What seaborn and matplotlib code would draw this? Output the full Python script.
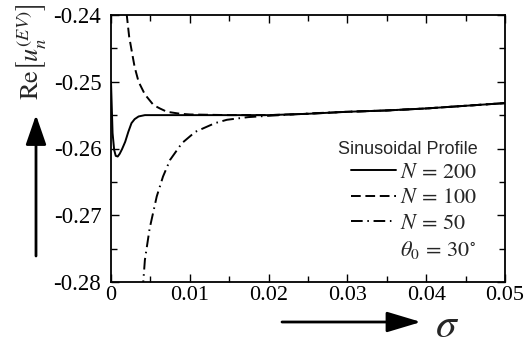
import numpy as np
import pandas as pd
import matplotlib
matplotlib.use("Agg")
import matplotlib.pyplot as plt
from matplotlib.ticker import MultipleLocator, FuncFormatter
from matplotlib.lines import Line2D
import seaborn as sns

# ---- data ----
x_n200 = [0.0, 0.0002, 0.0004, 0.0006, 0.00085, 0.0011, 0.0014, 0.0018, 0.0022,
          0.0026, 0.0030, 0.0035, 0.0043, 0.006, 0.010, 0.015, 0.020, 0.025,
          0.030, 0.035, 0.040, 0.045, 0.050]
y_n200 = [-0.2500, -0.2577, -0.2602, -0.2611, -0.2612, -0.2608, -0.2601, -0.2590,
          -0.2575, -0.2562, -0.2556, -0.2552, -0.2550, -0.2550, -0.2550, -0.2550,
          -0.2550, -0.2548, -0.2545, -0.2543, -0.2540, -0.2536, -0.2532]

x_n100 = [0.0018, 0.0020, 0.0023, 0.0026, 0.0030, 0.0035, 0.0043, 0.0054, 0.0062,
          0.0071, 0.0088, 0.010, 0.015, 0.020, 0.025, 0.030, 0.035, 0.040, 0.045, 0.050]
y_n100 = [-0.2370, -0.2400, -0.2432, -0.2452, -0.2478, -0.2500, -0.2519, -0.2535,
          -0.2540, -0.2545, -0.2548, -0.2549, -0.2550, -0.2550, -0.2548, -0.2545,
          -0.2543, -0.2540, -0.2536, -0.2532]

x_n50 = [0.0040, 0.0043, 0.0049, 0.0058, 0.0066, 0.0075, 0.0090, 0.0107, 0.0132,
         0.0147, 0.0174, 0.020, 0.023, 0.026, 0.030, 0.035, 0.040, 0.045, 0.050]
y_n50 = [-0.2815, -0.2767, -0.2720, -0.2672, -0.2642, -0.2617, -0.2592, -0.2575,
         -0.2562, -0.2557, -0.2553, -0.2551, -0.2549, -0.2547, -0.2545, -0.2543,
         -0.2540, -0.2536, -0.2532]

series_labels = [r"$N\,=\,200$", r"$N\,=\,100$", r"$N\,=\,50$"]
extra_label = r"$\theta_0\,=\,30^{\circ}$"
legend_title = "Sinusoidal Profile"
x_ticks = [0, 0.01, 0.02, 0.03, 0.04, 0.05]
y_ticks = [-0.28, -0.27, -0.26, -0.25, -0.24]

# ---- style ----
sns.set_style("ticks")
plt.rcParams["font.family"] = ["Liberation Serif", "DejaVu Serif"]
plt.rcParams["mathtext.fontset"] = "stix"
plt.rcParams["axes.unicode_minus"] = False

fig = plt.figure(figsize=(5.31, 3.47), dpi=100)
ax = fig.add_axes([111 / 531, 65 / 347, 394 / 531, 267 / 347])

df200 = pd.DataFrame({"x": x_n200, "y": y_n200})
df100 = pd.DataFrame({"x": x_n100, "y": y_n100})
df50 = pd.DataFrame({"x": x_n50, "y": y_n50})

lw = 1.4
sns.lineplot(data=df200, x="x", y="y", ax=ax, color="black", lw=lw, sort=False)
sns.lineplot(data=df100, x="x", y="y", ax=ax, color="black", lw=lw, sort=False)
sns.lineplot(data=df50, x="x", y="y", ax=ax, color="black", lw=lw, sort=False)
lines = ax.get_lines()
lines[1].set_dashes([5.0, 2.4])
lines[2].set_dashes([6.0, 2.4, 0.8, 2.4])

ax.set_xlim(0, 0.05)
ax.set_ylim(-0.28, -0.24)
ax.set_xlabel("")
ax.set_ylabel("")

ax.xaxis.set_major_locator(MultipleLocator(0.01))
ax.xaxis.set_minor_locator(MultipleLocator(0.005))
ax.yaxis.set_major_locator(MultipleLocator(0.01))
ax.yaxis.set_minor_locator(MultipleLocator(0.005))
ax.xaxis.set_major_formatter(FuncFormatter(lambda v, p: "0" if abs(v) < 1e-12 else f"{v:.2f}"))
ax.yaxis.set_major_formatter(FuncFormatter(lambda v, p: f"{v:.2f}"))
ax.tick_params(which="both", direction="in", top=True, right=True, width=1.0,
               labelsize=16, colors="black")
ax.tick_params(axis="y", labelsize=16.5)
ax.tick_params(axis="both", which="major", length=6)
ax.tick_params(axis="both", which="minor", length=4)
ax.tick_params(axis="y", which="major", pad=7)
ax.tick_params(axis="x", which="major", pad=3)
for s in ax.spines.values():
    s.set_linewidth(1.3)
    s.set_color("black")

# legend
handles = [Line2D([], [], color="black", lw=lw),
           Line2D([], [], color="black", lw=lw, dashes=[5.0, 2.4]),
           Line2D([], [], color="black", lw=lw, dashes=[6.0, 2.4, 0.8, 2.4]),
           Line2D([], [], color="none", lw=0)]
leg = ax.legend(handles, series_labels + [extra_label], title=legend_title,
                loc="lower right", bbox_to_anchor=(0.958, 0.038), frameon=False,
                fontsize=16, handlelength=2.0, handletextpad=0.2,
                labelspacing=0.22, borderpad=0.0, alignment="right",
                title_fontproperties={"family": "Liberation Sans", "size": 13})

# axis labels with arrows
fig.text(31 / 531, 1 - 52 / 347, r"$\mathrm{Re}\left[u_n^{(EV)}\right]$",
         rotation=90, ha="center", va="center", fontsize=19)
fig.add_artist(matplotlib.patches.FancyArrowPatch(
    (36 / 531, 1 - 256 / 347), (36 / 531, 1 - 115 / 347),
    transform=fig.transFigure, arrowstyle="-|>,head_length=1.3,head_width=0.45",
    mutation_scale=14, lw=2.0, color="black", shrinkA=0, shrinkB=0))
fig.add_artist(matplotlib.patches.FancyArrowPatch(
    (282 / 531, 1 - 322 / 347), (421 / 531, 1 - 322 / 347),
    transform=fig.transFigure, arrowstyle="-|>,head_length=1.5,head_width=0.45",
    mutation_scale=14, lw=2.0, color="black", shrinkA=0, shrinkB=0))
fig.text(447 / 531, 1 - 327 / 347, r"$\sigma$", ha="center", va="center", fontsize=30)

fig.savefig("out.png", dpi=100)
